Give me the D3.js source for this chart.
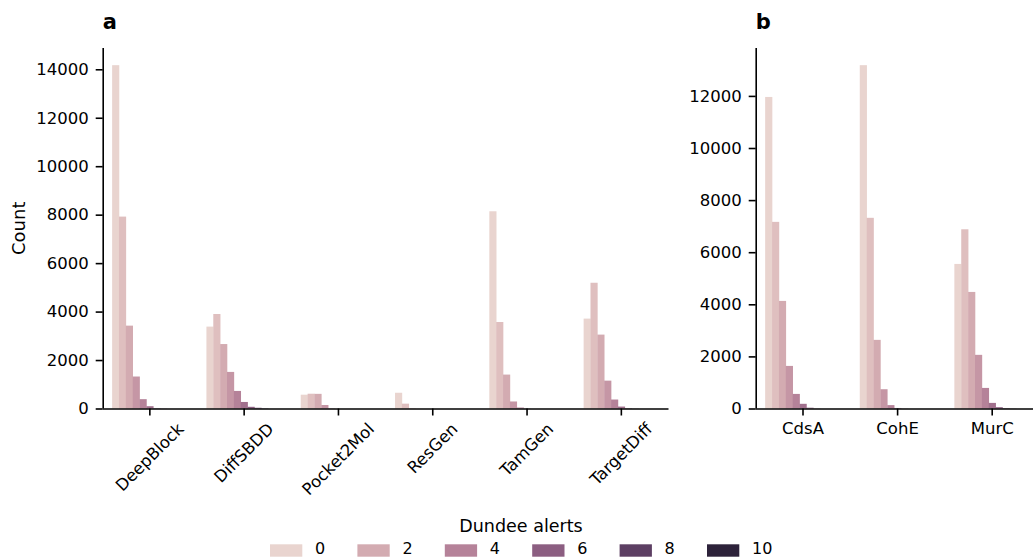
<!DOCTYPE html>
<html>
<head>
<meta charset="utf-8">
<script src="https://cdn.jsdelivr.net/npm/d3@7"></script>
<style>
  html, body { margin: 0; padding: 0; background: #fff; }
  svg { display: block; font-family: "DejaVu Sans", sans-serif; }
</style>
</head>
<body>
<svg id="chart" width="1033" height="558"></svg>
<script>
// ---- data ----
const alertLevels = [0, 1, 2, 3, 4, 5, 6, 7, 8, 9, 10];
const legendLevels = [0, 2, 4, 6, 8, 10];

const modelCategories = ["DeepBlock", "DiffSBDD", "Pocket2Mol", "ResGen", "TamGen", "TargetDiff"];
const deepBlock  = [14170, 7920, 3420, 1320, 385, 95, 15, 5, 0, 0, 0];
const diffSBDD   = [3380, 3900, 2660, 1510, 725, 270, 70, 30, 10, 0, 0];
const pocket2Mol = [570, 610, 605, 145, 10, 0, 0, 0, 0, 0, 0];
const resGen     = [650, 200, 10, 0, 0, 0, 0, 0, 0, 0, 0];
const tamGen     = [8140, 3570, 1400, 290, 40, 5, 0, 0, 0, 0, 0];
const targetDiff = [3710, 5190, 3050, 1150, 370, 80, 15, 5, 0, 0, 0];
const modelSeries = [deepBlock, diffSBDD, pocket2Mol, resGen, tamGen, targetDiff];

const targetCategories = ["CdsA", "CohE", "MurC"];
const cdsA = [11960, 7165, 4130, 1635, 560, 180, 30, 5, 0, 0, 0];
const cohE = [13180, 7320, 2635, 740, 130, 20, 5, 0, 0, 0, 0];
const murC = [5550, 6880, 4475, 2060, 790, 215, 50, 15, 5, 0, 0];
const targetSeries = [cdsA, cohE, murC];

const yTicksA = [0, 2000, 4000, 6000, 8000, 10000, 12000, 14000];
const yTicksB = [0, 2000, 4000, 6000, 8000, 10000, 12000];

// ---- colour map: seaborn default cubehelix ("ch:") desaturated 0.75 ----
function cubehelixRGB(x) {
  const start = 0, rot = 0.4, gamma = 1.0, hue = 0.8;
  const f = (p0, p1) => {
    const xg = Math.pow(x, gamma);
    const a = hue * xg * (1 - xg) / 2;
    const phi = 2 * Math.PI * (start / 3 + rot * x);
    return Math.min(1, Math.max(0, xg + a * (p0 * Math.cos(phi) + p1 * Math.sin(phi))));
  };
  return d3.rgb(255 * f(-0.14861, 1.78277), 255 * f(-0.29227, -0.90649), 255 * f(1.97294, 0.0));
}
const hueMin = d3.min(alertLevels), hueMax = d3.max(alertLevels);
function levelColor(v) {
  const t = (v - hueMin) / (hueMax - hueMin);
  const x = 0.85 + (0.15 - 0.85) * t;
  const c = d3.hsl(cubehelixRGB(x));
  c.s *= 0.75;
  return c.formatHex();
}

const svg = d3.select("#chart");
const FONT = 16.5;
const baseY = 408.5, topY = 48;

function drawPanel(opts) {
  const { categories, series, x0, x1, yTicks, letter, ylabel } = opts;
  const maxV = d3.max(series, s => d3.max(s));
  const y = d3.scaleLinear().domain([0, maxV * 1.05]).range([baseY, topY]);
  const x = d3.scaleBand().domain(categories).range([x0, x1]).paddingInner(0.2).paddingOuter(0.1);
  const xi = d3.scaleBand().domain(alertLevels).range([0, x.bandwidth()]);

  const g = svg.append("g");

  // bars
  categories.forEach((cat, ci) => {
    const vals = series[ci];
    g.append("g").selectAll("rect")
      .data(alertLevels.map((lv, i) => ({ lv, v: vals[i] })))
      .join("rect")
      .attr("x", d => x(cat) + xi(d.lv))
      .attr("y", d => y(d.v))
      .attr("width", xi.bandwidth() + 0.3)
      .attr("height", d => Math.max(0, baseY - y(d.v)))
      .attr("fill", d => levelColor(d.lv));
  });

  // y axis
  const ya = g.append("g").attr("transform", `translate(${x0},0)`)
    .call(d3.axisLeft(y).tickValues(yTicks).tickFormat(d3.format("d")).tickSize(7).tickSizeOuter(0).tickPadding(7));
  ya.select(".domain").attr("stroke", "#000").attr("stroke-width", 1.6)
    .attr("d", `M0.5,${topY}V${baseY}`);
  ya.selectAll(".tick line").attr("stroke", "#000").attr("stroke-width", 1.6);
  ya.selectAll(".tick text").attr("font-size", FONT).attr("font-family", "DejaVu Sans").attr("fill", "#000");

  // x axis
  const xa = g.append("g").attr("transform", `translate(0,${baseY})`)
    .call(d3.axisBottom(x).tickSize(7).tickSizeOuter(0));
  xa.select(".domain").attr("stroke", "#000").attr("stroke-width", 1.6)
    .attr("d", `M${x0},0.5H${x1}`);
  xa.selectAll(".tick line").attr("stroke", "#000").attr("stroke-width", 1.6);
  xa.selectAll(".tick text").attr("font-size", FONT).attr("font-family", "DejaVu Sans").attr("fill", "#000");

  if (opts.rotate) {
    xa.selectAll(".tick text").each(function () {
      const t = d3.select(this);
      const L = this.getComputedTextLength();
      const h = FONT * 1.16;
      const side = (L + h) * Math.SQRT1_2;
      t.attr("y", null).attr("dy", "0.32em").attr("text-anchor", "middle")
        .attr("transform", `translate(0,${11 + side / 2}) rotate(-45)`);
    });
  } else {
    xa.selectAll(".tick text").attr("y", 14).attr("dy", "0.71em");
  }

  // panel letter
  svg.append("text").attr("x", x0).attr("y", 29).attr("font-size", 21)
    .attr("font-weight", "bold").attr("font-family", "DejaVu Sans").text(letter);

  if (ylabel) {
    svg.append("text")
      .attr("transform", `translate(25,${(topY + baseY) / 2}) rotate(-90)`)
      .attr("text-anchor", "middle").attr("font-size", 18).attr("font-family", "DejaVu Sans")
      .text(ylabel);
  }
}

drawPanel({ categories: modelCategories, series: modelSeries, x0: 102.7, x1: 668.5,
  yTicks: yTicksA, letter: "a", ylabel: "Count", rotate: true });
drawPanel({ categories: targetCategories, series: targetSeries, x0: 755.7, x1: 1039.5,
  yTicks: yTicksB, letter: "b", ylabel: null, rotate: false });

// legend
const leg = svg.append("g");
leg.append("text").attr("x", 521).attr("y", 532).attr("text-anchor", "middle")
  .attr("font-size", 17.5).attr("font-family", "DejaVu Sans").text("Dundee alerts");
const legStep = 87.4;
legendLevels.forEach((lv, i) => {
  const lx = 270 + i * legStep;
  leg.append("rect").attr("x", lx).attr("y", 544.3).attr("width", 32.3).attr("height", 12.4)
    .attr("fill", levelColor(lv));
  leg.append("text").attr("x", lx + 45).attr("y", 554.2)
    .attr("font-size", 16).attr("font-family", "DejaVu Sans").text(lv);
});
</script>
</body>
</html>
